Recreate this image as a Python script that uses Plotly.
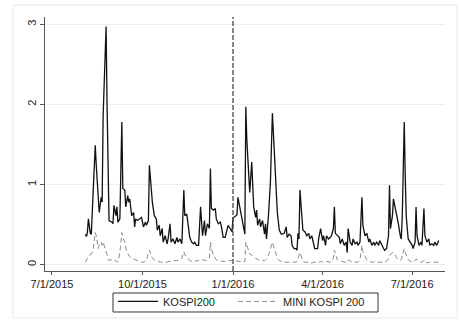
import plotly.graph_objects as go

dates = [
 "2015-08-04","2015-08-05","2015-08-06","2015-08-07","2015-08-09","2015-08-10","2015-08-12","2015-08-14","2015-08-15","2015-08-17",
 "2015-08-18","2015-08-20","2015-08-21","2015-08-22","2015-08-24","2015-08-25","2015-08-26","2015-08-27","2015-08-28","2015-08-31",
 "2015-09-01","2015-09-02","2015-09-04","2015-09-05","2015-09-06","2015-09-08","2015-09-10","2015-09-11","2015-09-13","2015-09-14",
 "2015-09-16","2015-09-17","2015-09-18","2015-09-20","2015-09-22","2015-09-23","2015-09-24","2015-09-26","2015-09-28","2015-09-30",
 "2015-10-02","2015-10-04","2015-10-05","2015-10-07","2015-10-08","2015-10-09","2015-10-11","2015-10-13","2015-10-15","2015-10-16",
 "2015-10-18","2015-10-19","2015-10-21","2015-10-22","2015-10-24","2015-10-26","2015-10-27","2015-10-29","2015-10-30","2015-11-01",
 "2015-11-03","2015-11-05","2015-11-06","2015-11-08","2015-11-10","2015-11-12","2015-11-13","2015-11-15","2015-11-17","2015-11-18",
 "2015-11-20","2015-11-22","2015-11-23","2015-11-25","2015-11-27","2015-11-28","2015-11-29","2015-12-01","2015-12-03","2015-12-04",
 "2015-12-06","2015-12-08","2015-12-09","2015-12-10","2015-12-12","2015-12-14","2015-12-15","2015-12-17","2015-12-19","2015-12-20",
 "2015-12-22","2015-12-24","2015-12-26","2015-12-27","2015-12-29","2015-12-31","2016-01-01","2016-01-03","2016-01-05","2016-01-06",
 "2016-01-08","2016-01-10","2016-01-11","2016-01-13","2016-01-14","2016-01-15","2016-01-17","2016-01-18","2016-01-20","2016-01-21",
 "2016-01-22","2016-01-24","2016-01-25","2016-01-26","2016-01-28","2016-01-29","2016-01-31","2016-02-02","2016-02-03","2016-02-04",
 "2016-02-06","2016-02-08","2016-02-09","2016-02-10","2016-02-12","2016-02-14","2016-02-15","2016-02-17","2016-02-19","2016-02-20",
 "2016-02-22","2016-02-24","2016-02-25","2016-02-27","2016-02-29","2016-03-01","2016-03-03","2016-03-05","2016-03-06","2016-03-07",
 "2016-03-08","2016-03-09","2016-03-11","2016-03-12","2016-03-14","2016-03-16","2016-03-18","2016-03-19","2016-03-21","2016-03-23",
 "2016-03-24","2016-03-27","2016-03-28","2016-03-30","2016-04-01","2016-04-02","2016-04-04","2016-04-05","2016-04-07","2016-04-09",
 "2016-04-10","2016-04-12","2016-04-13","2016-04-14","2016-04-16","2016-04-18","2016-04-19","2016-04-21","2016-04-23","2016-04-25",
 "2016-04-26","2016-04-27","2016-04-29","2016-05-01","2016-05-02","2016-05-04","2016-05-06","2016-05-07","2016-05-09","2016-05-11",
 "2016-05-12","2016-05-14","2016-05-16","2016-05-18","2016-05-19","2016-05-21","2016-05-23","2016-05-24","2016-05-26","2016-05-28",
 "2016-05-29","2016-05-31","2016-06-02","2016-06-03","2016-06-05","2016-06-07","2016-06-08","2016-06-09","2016-06-11","2016-06-12",
 "2016-06-14","2016-06-15","2016-06-17","2016-06-19","2016-06-20","2016-06-21","2016-06-23","2016-06-24","2016-06-25","2016-06-27",
 "2016-06-29","2016-07-01","2016-07-02","2016-07-04","2016-07-05","2016-07-06","2016-07-08","2016-07-10","2016-07-11","2016-07-13",
 "2016-07-14","2016-07-16","2016-07-18","2016-07-19","2016-07-21","2016-07-23","2016-07-24","2016-07-26","2016-07-28",
]

kospi200 = [
 .38,.35,.40,.57,.39,.38,.95,1.49,1.24,.82,
 .65,.84,.78,1.86,2.74,2.97,1.99,1.20,.55,.53,
 .51,.74,.61,.72,.53,.57,1.78,.95,.93,.72,
 .86,.78,.82,.61,.65,.47,.57,.55,.57,.59,
 .47,.53,.49,.55,1.24,1.07,.78,.61,.57,.43,
 .49,.36,.45,.28,.36,.26,.32,.51,.28,.32,
 .26,.34,.28,.32,.26,.93,.61,.63,.45,.34,
 .28,.26,.28,.24,.24,.45,.72,.36,.55,.36,
 .51,.45,1.20,.70,.68,.70,.57,.51,.53,.49,
 .34,.34,.45,.49,.45,.41,.58,.60,.62,.84,
 .70,.57,.51,.38,1.97,1.57,1.11,.90,1.28,1.00,
 .72,.59,.68,.49,.57,.47,.55,.38,.51,.32,
 .61,1.03,1.45,1.89,1.40,1.00,.65,.43,.38,.38,
 .39,.47,.34,.38,.36,.24,.20,.20,.18,.39,
 .32,.93,.49,.43,.41,.36,.39,.32,.36,.24,
 .20,.20,.32,.45,.30,.36,.24,.36,.32,.34,
 .36,.45,.72,.39,.36,.34,.26,.32,.24,.28,
 .15,.45,.28,.24,.32,.26,.28,.24,.28,.84,
 .49,.36,.39,.28,.32,.24,.28,.24,.28,.24,
 .30,.24,.20,.18,.20,.36,.99,.45,.61,.82,
 .70,.66,.51,.36,.32,.61,1.78,1.11,.61,.32,
 .28,.24,.20,.28,.72,.36,.24,.28,.24,.70,
 .36,.28,.32,.24,.26,.24,.28,.24,.30,
]

mini_kospi200 = [
 .03,.05,.08,.11,.12,.13,.20,.40,.36,.20,
 .24,.28,.24,.28,.20,.15,.11,.08,.05,.06,
 .07,.06,.05,.04,.03,.15,.40,.34,.28,.20,
 .14,.12,.10,.08,.07,.06,.05,.04,.04,.03,
 .03,.04,.05,.15,.18,.15,.08,.06,.05,.04,
 .04,.03,.03,.03,.03,.03,.04,.04,.04,.04,
 .05,.05,.05,.06,.08,.16,.12,.10,.07,.05,
 .04,.04,.04,.05,.05,.06,.07,.06,.05,.05,
 .06,.08,.28,.20,.12,.08,.06,.05,.05,.04,
 .04,.04,.05,.05,.05,.05,.06,.05,.05,.04,
 .04,.04,.03,.04,.28,.24,.15,.13,.12,.10,
 .09,.08,.07,.06,.05,.05,.05,.05,.06,.07,
 .12,.18,.24,.28,.20,.12,.08,.05,.04,.03,
 .03,.03,.03,.03,.03,.03,.03,.03,.04,.08,
 .12,.15,.08,.04,.03,.03,.03,.02,.02,.03,
 .03,.02,.03,.04,.03,.03,.03,.04,.03,.03,
 .04,.08,.18,.14,.06,.04,.04,.04,.03,.03,
 .03,.06,.04,.03,.03,.03,.03,.03,.06,.24,
 .16,.10,.06,.05,.04,.03,.03,.04,.03,.03,
 .03,.03,.03,.03,.04,.07,.10,.13,.15,.15,
 .12,.09,.06,.05,.06,.12,.20,.15,.11,.06,
 .04,.03,.03,.05,.07,.06,.04,.03,.03,.05,
 .06,.02,.03,.03,.03,.03,.03,.03,.03,
]

x_tickvals = ["2015-07-01", "2015-10-01", "2016-01-01", "2016-04-01", "2016-07-01"]
x_ticktext = ["7/1/2015", "10/1/2015", "1/1/2016", "4/1/2016", "7/1/2016"]
y_tickvals = [0, 1, 2, 3]
event_date = "2016-01-01"

FONT = "Liberation Sans, Arial, sans-serif"

fig = go.Figure()
fig.add_trace(go.Scatter(x=dates, y=kospi200, mode="lines", name="KOSPI200",
                         line=dict(color="#111111", width=1.3), legend="legend"))
fig.add_trace(go.Scatter(x=dates, y=mini_kospi200, mode="lines", name="MINI KOSPI 200",
                         line=dict(color="#8c8c8c", width=1, dash="5px,3px"),
                         legend="legend2"))

fig.add_shape(type="line", xref="x", yref="paper", x0=event_date, x1=event_date,
              y0=0, y1=1, line=dict(color="#444444", width=1.3, dash="5px,2px"))
# outer graph-region frame
fig.add_shape(type="rect", xref="paper", yref="paper", x0=-0.08, x1=1.03,
              y0=-0.185, y1=1.047, line=dict(color="#e4ecee", width=1), layer="below")
# legend box frame
fig.add_shape(type="rect", xref="paper", yref="paper", x0=0.17, x1=0.8325,
              y0=-0.1614, y1=-0.0866, line=dict(color="#333333", width=1))

legend_common = dict(orientation="h", xref="container", yref="container",
                     y=0.109, xanchor="left", yanchor="top",
                     bgcolor="rgba(0,0,0,0)", borderwidth=0,
                     font=dict(size=11, color="#222222"), itemwidth=40)

fig.update_layout(
    width=462, height=322,
    margin=dict(l=45, r=17, t=17, b=51, autoexpand=False),
    paper_bgcolor="white", plot_bgcolor="white",
    font=dict(family=FONT, size=11, color="#222222"),
    showlegend=True,
    legend=dict(x=0.2446, **legend_common),
    legend2=dict(x=0.5043, **legend_common),
    xaxis=dict(range=["2015-06-23 22:00", "2016-08-03 10:00"],
               tickmode="array", tickvals=x_tickvals, ticktext=x_ticktext,
               showgrid=False, zeroline=False, showline=True, linecolor="#555555",
               linewidth=1, ticks="outside", ticklen=3, tickcolor="#555555",
               tickfont=dict(size=11, color="#222222")),
    yaxis=dict(range=[-0.08, 3.09], tickmode="array", tickvals=y_tickvals,
               showgrid=True, gridcolor="#e8eff0", gridwidth=1, zeroline=False,
               showline=True, linecolor="#555555", linewidth=1,
               ticks="outside", ticklen=4, tickcolor="#555555", tickangle=-90,
               tickfont=dict(size=11, color="#222222")),
)

fig.write_html("out.html")
